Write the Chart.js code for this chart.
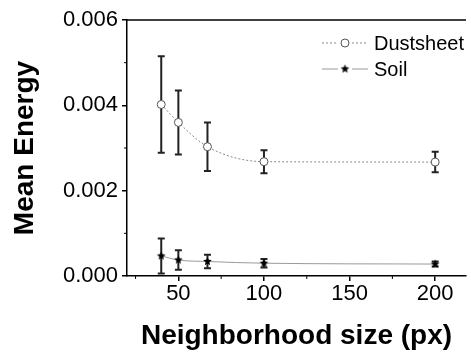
<!DOCTYPE html>
<html>
<head>
<meta charset="utf-8">
<script src="https://cdn.jsdelivr.net/npm/chart.js@4.4.0/dist/chart.umd.min.js"></script>
<style>
html, body { margin: 0; padding: 0; background: #fff; overflow: hidden; }
</style>
</head>
<body>
<canvas id="energyChart" width="471" height="353"></canvas>
<script>
// neighborhood sizes (px)
const sizes = [40, 50, 67, 100, 200];
// Dustsheet mean energy and error
const dustMean = [0.00402, 0.00360, 0.00303, 0.00268, 0.00267];
const dustErr = [0.00113, 0.00075, 0.00057, 0.00027, 0.00024];
// Soil mean energy and error
const soilMean = [0.00047, 0.000375, 0.00034, 0.00030, 0.00028];
const soilErr = [0.00041, 0.00023, 0.00016, 0.00010, 0.00006];

const xTicks = [50, 100, 150, 200];
const xMinor = [25, 75, 125, 175];
const yTicks = [0, 0.002, 0.004, 0.006];
const yMinor = [0.001, 0.003, 0.005];

const FONT = "'Liberation Sans', Arial, sans-serif";

// small filled star for the Soil markers
function makeStar(r) {
  const c = document.createElement('canvas');
  c.width = c.height = Math.ceil(r * 2 + 2);
  const g = c.getContext('2d');
  const cx = c.width / 2, cy = c.height / 2;
  g.beginPath();
  for (let i = 0; i < 10; i++) {
    const rad = i % 2 === 0 ? r : r * 0.45;
    const a = -Math.PI / 2 + i * Math.PI / 5;
    g.lineTo(cx + rad * Math.cos(a), cy + rad * Math.sin(a));
  }
  g.closePath();
  g.fillStyle = '#000';
  g.fill();
  return c;
}
const starImg = makeStar(4.5);

const toPts = (ys) => sizes.map((x, i) => ({ x: x, y: ys[i] }));

const extras = {
  id: 'extras',
  beforeDatasetsDraw(chart) {
    const { ctx, scales: { x, y } } = chart;
    ctx.save();
    ctx.strokeStyle = '#222';
    ctx.lineWidth = 2;
    [[dustMean, dustErr], [soilMean, soilErr]].forEach(([m, e]) => {
      sizes.forEach((s, i) => {
        const px = x.getPixelForValue(s);
        const top = y.getPixelForValue(m[i] + e[i]);
        const bot = y.getPixelForValue(m[i] - e[i]);
        ctx.beginPath();
        ctx.moveTo(px, top); ctx.lineTo(px, bot);
        ctx.moveTo(px - 3.5, top); ctx.lineTo(px + 3.5, top);
        ctx.moveTo(px - 3.5, bot); ctx.lineTo(px + 3.5, bot);
        ctx.stroke();
      });
    });
    ctx.restore();
  },
  afterDraw(chart) {
    const { ctx, chartArea: a, scales: { x, y } } = chart;
    ctx.save();
    ctx.strokeStyle = '#000';
    ctx.lineWidth = 1.5;
    // top frame line
    ctx.beginPath();
    ctx.moveTo(a.left, a.top); ctx.lineTo(a.right, a.top);
    ctx.stroke();
    // minor ticks
    ctx.lineWidth = 1;
    xMinor.forEach(v => {
      const px = x.getPixelForValue(v);
      ctx.beginPath(); ctx.moveTo(px, a.bottom); ctx.lineTo(px, a.bottom + 3); ctx.stroke();
    });
    yMinor.forEach(v => {
      const py = y.getPixelForValue(v);
      ctx.beginPath(); ctx.moveTo(a.left, py); ctx.lineTo(a.left - 3, py); ctx.stroke();
    });

    // legend
    const mx = 345, tx = 374;
    ctx.font = '20px ' + FONT;
    ctx.fillStyle = '#000';
    ctx.textBaseline = 'middle';
    // Dustsheet
    ctx.strokeStyle = '#888';
    ctx.lineWidth = 1;
    ctx.setLineDash([2, 2]);
    ctx.beginPath();
    ctx.moveTo(322, 43); ctx.lineTo(338, 43);
    ctx.moveTo(352, 43); ctx.lineTo(368, 43);
    ctx.stroke();
    ctx.setLineDash([]);
    ctx.fillStyle = '#fff';
    ctx.strokeStyle = '#555';
    ctx.beginPath(); ctx.arc(mx, 43, 4, 0, Math.PI * 2); ctx.fill(); ctx.stroke();
    ctx.fillStyle = '#000';
    ctx.fillText('Dustsheet', tx, 44);
    // Soil
    ctx.strokeStyle = '#999';
    ctx.beginPath();
    ctx.moveTo(322, 69); ctx.lineTo(338, 69);
    ctx.moveTo(352, 69); ctx.lineTo(368, 69);
    ctx.stroke();
    ctx.drawImage(starImg, mx - starImg.width / 2, 69 - starImg.height / 2);
    ctx.fillText('Soil', tx, 70);
    ctx.restore();
  }
};

new Chart(document.getElementById('energyChart'), {
  type: 'line',
  data: {
    datasets: [{
      label: 'Dustsheet',
      data: toPts(dustMean),
      borderColor: '#888',
      borderWidth: 1,
      borderDash: [2, 2],
      cubicInterpolationMode: 'monotone',
      pointStyle: 'circle',
      pointRadius: 4,
      pointBackgroundColor: '#fff',
      pointBorderColor: '#555',
      pointBorderWidth: 1,
      fill: false
    }, {
      label: 'Soil',
      data: toPts(soilMean),
      borderColor: '#999',
      borderWidth: 1,
      cubicInterpolationMode: 'monotone',
      pointStyle: starImg,
      fill: false
    }]
  },
  options: {
    responsive: false,
    animation: false,
    layout: { padding: { top: 20, right: 0, left: 0, bottom: 0 } },
    plugins: { legend: { display: false }, tooltip: { enabled: false } },
    scales: {
      x: {
        type: 'linear',
        min: 20,
        max: 218,
        afterBuildTicks: s => { s.ticks = xTicks.map(v => ({ value: v })); },
        afterFit: s => { s.height = 77; },
        grid: { drawOnChartArea: false, tickLength: 5, color: '#000', lineWidth: 1.5 },
        border: { color: '#000', width: 1.5 },
        ticks: { color: '#000', padding: 0, maxRotation: 0, font: { family: FONT, size: 22 } },
        title: {
          display: true,
          text: 'Neighborhood size (px)',
          color: '#000',
          padding: { top: 0, bottom: 0 },
          font: { family: FONT, size: 28, weight: 'bold' }
        }
      },
      y: {
        min: 0,
        max: 0.006,
        afterBuildTicks: s => { s.ticks = yTicks.map(v => ({ value: v })); },
        afterFit: s => { s.width = 127; },
        grid: { drawOnChartArea: false, tickLength: 5, color: '#000', lineWidth: 1.5 },
        border: { color: '#000', width: 1.5 },
        ticks: { color: '#000', padding: 4, font: { family: FONT, size: 22 }, callback: v => v.toFixed(3) },
        title: {
          display: true,
          text: 'Mean Energy',
          color: '#000',
          padding: { top: 8, bottom: 0 },
          font: { family: FONT, size: 28, weight: 'bold' }
        }
      }
    }
  },
  plugins: [extras]
});
</script>
</body>
</html>
